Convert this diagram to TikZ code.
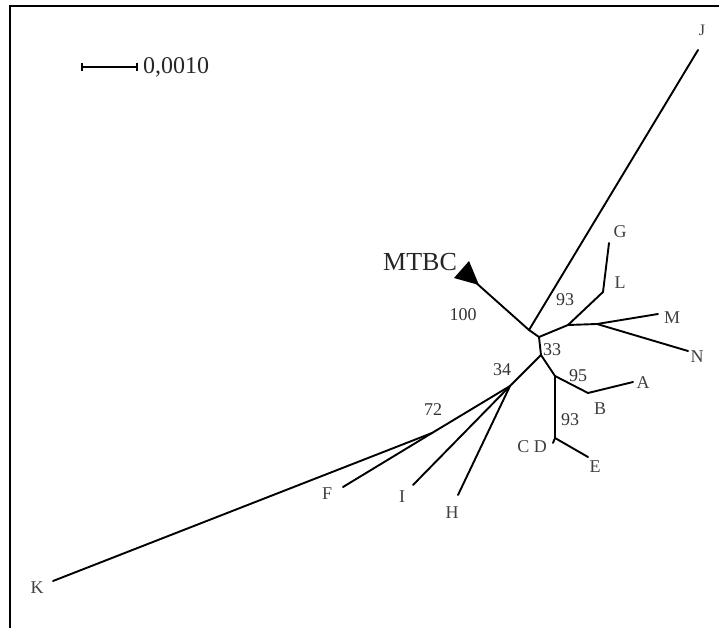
\documentclass[tikz,border=0pt]{standalone}
\usepackage{fontspec}
\setmainfont{Liberation Serif}
\usetikzlibrary{calc}

\begin{document}
\begin{tikzpicture}[
        x=1pt, y=-1pt,
        frame/.style={
            line width=1.8pt,
            black
        },
        branch/.style={
            line width=1.9pt,
            black,
            line cap=round
        },
        taxon/.style={
            inner sep=0pt,
            text=black!75,
            font=\fontsize{18}{18}\selectfont
        },
        support/.style={
            inner sep=0pt,
            text=black!80,
            font=\fontsize{18}{18}\selectfont
        },
        biglabel/.style={
            inner sep=0pt,
            text=black!85,
            font=\fontsize{26}{26}\selectfont
        }
    ]
    \useasboundingbox (0,0) rectangle (719,628);

    % Frame (left and top only)
    \draw[frame] (10,628) -- (10,6) -- (719,6);

    % Scale bar
    \coordinate (barL) at (82,67);
    \coordinate (barR) at (137,67);
    \draw[line width=1.9pt] (barL) -- (barR);
    \draw[line width=1.5pt] ($(barL)+(0,-4)$) -- ($(barL)+(0,4)$);
    \draw[line width=1.5pt] ($(barR)+(0,-4)$) -- ($(barR)+(0,4)$);
    \node[biglabel, anchor=west, font=\fontsize{24}{24}\selectfont] (scale) at (143,67) {0,0010};

    % Internal nodes
    \coordinate (nJ)  at (529,330);
    \coordinate (n1)  at (539,337);
    \coordinate (n2)  at (568,325);
    \coordinate (nL)  at (603,292);
    \coordinate (nMN) at (597,324);
    \coordinate (n33) at (541,355);
    \coordinate (n95) at (555,376);
    \coordinate (nB)  at (588,393);
    \coordinate (nCD) at (555,438);
    \coordinate (n34) at (510,386);
    \coordinate (n72) at (432,433);

    % Tips
    \coordinate (tJ)  at (698,50);
    \coordinate (tMT) at (474,281);
    \coordinate (tG)  at (609,243);
    \coordinate (tM)  at (658,314);
    \coordinate (tN)  at (688,351);
    \coordinate (tA)  at (633,382);
    \coordinate (tE)  at (588,457);
    \coordinate (tCD) at (553,443);
    \coordinate (tK)  at (53,581);
    \coordinate (tF)  at (343,487);
    \coordinate (tI)  at (413,485);
    \coordinate (tH)  at (458,495);

    % MTBC collapsed clade
    \fill (454,278) -- (469,261) -- (479,285) -- cycle;

    % Branches
    \draw[branch] (nJ) -- (tMT);
    \draw[branch] (nJ) -- (tJ);
    \draw[branch] (nJ) -- (n1);
    \draw[branch] (n1) -- (n2);
    \draw[branch] (n2) -- (nL);
    \draw[branch] (nL) -- (tG);
    \draw[branch] (n2) -- (nMN);
    \draw[branch] (nMN) -- (tM);
    \draw[branch] (nMN) -- (tN);
    \draw[branch] (n1) -- (n33);
    \draw[branch] (n33) -- (n95);
    \draw[branch] (n95) -- (nB);
    \draw[branch] (nB) -- (tA);
    \draw[branch] (n95) -- (nCD);
    \draw[branch] (nCD) -- (tE);
    \draw[branch] (nCD) -- (tCD);
    \draw[branch] (n33) -- (n34);
    \draw[branch] (n34) -- (n72);
    \draw[branch] (n72) -- (tK);
    \draw[branch] (n72) -- (tF);
    \draw[branch] (n34) -- (tI);
    \draw[branch] (n34) -- (tH);

    % Taxon labels
    \node[biglabel] (lMT) at (420,262) {MTBC};
    \node[taxon, font=\fontsize{16}{16}\selectfont] (lJ) at (702,30) {J};
    \node[taxon] (lG)  at (620,232) {G};
    \node[taxon] (lL)  at (620,283) {L};
    \node[taxon] (lM)  at (672,318) {M};
    \node[taxon] (lN)  at (697,357) {N};
    \node[taxon] (lA)  at (643,383) {A};
    \node[taxon] (lB)  at (600,409) {B};
    \node[taxon] (lCD) at (532,447) {C D};
    \node[taxon] (lE)  at (595,467) {E};
    \node[taxon] (lF)  at (327,494) {F};
    \node[taxon] (lI)  at (402,497) {I};
    \node[taxon] (lH)  at (452,513) {H};
    \node[taxon] (lK)  at (37,588) {K};

    % Bootstrap values
    \node[support] (b100) at (463,315) {100};
    \node[support] (b93a) at (565,300) {93};
    \node[support] (b33)  at (552,350) {33};
    \node[support] (b34)  at (502,370) {34};
    \node[support] (b95)  at (578,376) {95};
    \node[support] (b93b) at (570,420) {93};
    \node[support] (b72)  at (433,410) {72};
\end{tikzpicture}
\end{document}
